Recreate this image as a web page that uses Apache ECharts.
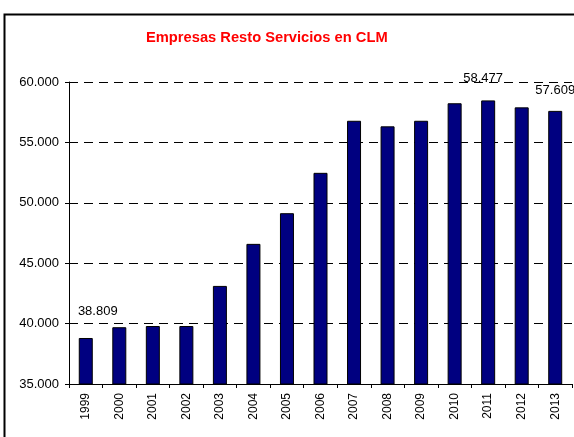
<!DOCTYPE html>
<html>
<head>
<meta charset="utf-8">
<script src="https://cdn.jsdelivr.net/npm/echarts@6/dist/echarts.min.js"></script>
<style>
  html, body { margin: 0; padding: 0; background: #fff; }
  #chart-1 { width: 574px; height: 437px; }
</style>
</head>
<body>
<div id="chart-1"></div>
<script>
/************************        Empresas Resto Servicios en CLM        **************************/

var years = ['1999', '2000', '2001', '2002', '2003', '2004', '2005', '2006',
             '2007', '2008', '2009', '2010', '2011', '2012', '2013'];
var empresas = [38809, 39700, 39800, 39800, 43120, 46600, 49140, 52480,
                56790, 56330, 56790, 58240, 58477, 57900, 57609];
// years that carry a value label in the original
var labeledYears = ['1999', '2011', '2013'];
var labelShift = { '1999': [12, -5], '2011': [-5, 0], '2013': [0, 2] };

function fmtES(v) {
    return String(Math.round(v)).replace(/\B(?=(\d{3})+(?!\d))/g, '.');
}

var dom = document.getElementById("chart-1");
var myChart = echarts.init(dom);
var option = null;

var barData = years.map(function (y, i) {
    var item = { value: empresas[i] };
    if (labeledYears.indexOf(y) >= 0) {
        item.label = { show: true, offset: labelShift[y] };
    }
    return item;
});

option = {
    animation: false,
    backgroundColor: '#fff',
    textStyle: { fontFamily: 'Liberation Sans, Arial, sans-serif' },
    title: {
        text: 'Empresas Resto Servicios en CLM',
        left: 141,
        top: 25,
        textStyle: {
            color: '#ff0000',
            fontSize: 14.7,
            fontWeight: 'bold',
            fontFamily: 'Liberation Sans, Arial, sans-serif'
        }
    },
    graphic: [
        {
            type: 'rect',
            left: 2,
            top: 12,
            shape: { width: 620, height: 480 },
            style: { fill: 'none', stroke: '#000', lineWidth: 2 },
            silent: true
        }
    ],
    grid: {
        left: 69,
        right: 2,
        top: 82,
        bottom: 53
    },
    xAxis: {
        type: 'category',
        data: years,
        boundaryGap: true,
        axisLine: { lineStyle: { color: '#000', width: 1 } },
        axisTick: { show: true, interval: 0, length: 4, lineStyle: { color: '#000' } },
        axisLabel: {
            interval: 0,
            rotate: 90,
            color: '#000',
            fontSize: 12,
            margin: 9
        }
    },
    yAxis: {
        type: 'value',
        min: 35000,
        max: 60000,
        interval: 5000,
        axisLine: { show: true, lineStyle: { color: '#000', width: 1 } },
        axisTick: { show: true, length: 4, lineStyle: { color: '#000' } },
        axisLabel: {
            color: '#000',
            fontSize: 13,
            margin: 10,
            formatter: fmtES
        },
        splitLine: {
            show: true,
            lineStyle: { color: '#000', type: [9, 6], width: 1 }
        }
    },
    series: [
        {
            type: 'bar',
            barWidth: 14,
            data: barData,
            itemStyle: {
                color: '#000080',
                borderColor: '#000',
                borderWidth: 1
            },
            label: {
                show: false,
                position: 'top',
                distance: 15.5,
                color: '#000',
                fontSize: 13,
                formatter: function (p) { return fmtES(p.value); }
            }
        }
    ]
};

myChart.setOption(option);
</script>
</body>
</html>
